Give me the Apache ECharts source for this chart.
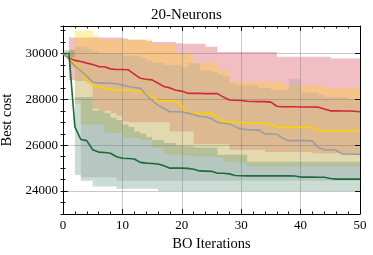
<!DOCTYPE html>
<html>
<head>
<meta charset="utf-8">
<script src="https://cdn.jsdelivr.net/npm/echarts@6/dist/echarts.min.js"></script>
<style>html,body{margin:0;padding:0;background:#fff}#c{width:373px;height:255px}</style>
</head>
<body>
<div id="c"></div>
<script>
const iters = [0,1,2,3,4,5,6,7,8,9,10,11,12,13,14,15,16,17,18,19,20,21,22,23,24,25,26,27,28,29,30,31,32,33,34,35,36,37,38,39,40,41,42,43,44,45,46,47,48,49,50];
const xTicks = [0,10,20,30,40,50];
const yTicks = [24000,26000,28000,30000];

const redMean = [30000,29800,29700,29650,29580,29520,29430,29420,29330,29300,
 29300,29290,29100,28920,28880,28850,28700,28560,28500,28400,
 28360,28270,28260,28260,28250,28250,28250,28100,27970,27960,
 27950,27920,27910,27900,27900,27880,27700,27680,27680,27680,
 27670,27670,27670,27660,27580,27500,27500,27490,27490,27480,
 27460];
const redHi = [30000,30700,30700,30700,30700,30700,30700,30700,30700,30700,
 30650,30600,30600,30600,30550,30500,30500,30500,30500,30450,
 30430,30430,30430,30430,30290,30290,30070,30070,30070,30070,
 30070,30070,30070,30070,30070,30070,29855,29855,29855,29855,
 29855,29855,29855,29855,29855,29780,29780,29780,29780,29780,
 29780];
const redLo = [30000,28850,28800,28800,28700,27600,27500,27500,27400,27300,
 27050,27000,27000,27000,27000,27000,27000,27000,26600,26600,
 26600,26600,26050,26050,26050,26050,26050,26050,25800,25800,
 25800,25800,25800,25800,25700,25700,25700,25700,25700,25700,
 25700,25700,25650,25650,25650,25650,25650,25650,25650,25650,
 25650];

const yelMean = [30000,29750,29600,29280,28860,28620,28550,28480,28430,28400,
 28400,28400,28400,28330,28270,28100,27930,27930,27930,27920,
 27700,27400,27390,27390,27390,27390,27200,27030,27030,27020,
 27000,26980,26960,26955,26955,26900,26780,26780,26780,26780,
 26780,26780,26770,26640,26630,26630,26630,26630,26630,26630,
 26620];
const yelHi = [30000,30200,31000,31000,31000,30800,30600,30600,30600,30600,
 30600,30600,30600,30600,30600,30400,30400,30400,30400,30000,
 30000,30000,29600,29600,29600,29600,29270,29270,28770,28770,
 28770,28770,28770,28770,28770,28770,28770,28620,28620,28620,
 28620,28620,28620,28620,28480,28480,28480,28480,28480,28480,
 28480];
const yelLo = [30000,29400,27800,26900,26900,26900,26900,26530,26530,26530,
 26330,26330,26330,26230,26230,25880,25880,25600,25600,25600,
 25550,25550,25500,25500,25500,25500,25450,25280,25280,25250,
 25230,25070,25070,25070,25070,25070,25070,25070,25070,25070,
 25070,25070,25070,25070,25070,25070,25070,25070,25070,25070,
 25070];

const grayMean = [30000,29750,29450,29250,29000,28750,28720,28710,28700,28680,
 28620,28560,28520,28480,28200,27950,27750,27600,27460,27460,
 27450,27400,27340,27250,27240,27150,27000,26955,26930,26810,
 26700,26680,26670,26660,26490,26490,26480,26300,26200,26200,
 26200,26200,26180,25900,25800,25800,25780,25620,25620,25610,
 25600];
const grayHi = [30000,30100,30300,30300,30200,30100,30000,30000,30000,30000,
 29900,29900,29900,29800,29700,29600,29600,29500,29500,29500,
 29400,29570,29570,29270,29270,29200,29100,29000,28700,28600,
 28600,28600,28600,28500,28500,28400,28400,28400,28900,28900,
 28300,28300,28300,28200,28100,28100,28100,28100,28000,28000,
 28000];
const grayLo = [30000,29400,28000,24600,24600,24600,24600,24600,24600,24450,
 24450,24450,24450,24450,24450,24450,24450,24450,24450,24450,
 24450,24450,24450,24450,24450,24450,24450,24450,24450,24450,
 24450,24450,24450,24450,24450,24450,24450,24450,24450,24450,
 24450,24450,24450,24450,24450,24450,24450,24450,24450,24450,
 24450];

const grnMean = [30000,30000,26800,26250,26200,25800,25700,25680,25650,25500,
 25430,25420,25400,25250,25220,25200,25180,25100,25000,25000,
 25000,24990,24950,24880,24870,24860,24780,24780,24750,24680,
 24670,24665,24665,24665,24665,24665,24665,24665,24665,24660,
 24610,24610,24610,24605,24600,24550,24520,24520,24520,24520,
 24520];
const grnHi = [30150,30150,28100,28100,28100,27500,27500,27400,27200,27100,
 26900,26800,26600,26500,26350,26230,26230,26100,26100,26000,
 25950,25950,25900,25900,25900,25900,25580,25580,25580,25580,
 25580,25280,25280,25280,25280,25280,25280,25280,25280,25280,
 25280,25280,25280,25280,25280,25280,25280,25280,25280,25280,
 25280];
const grnLo = [29850,29850,24700,24450,24450,24200,24200,24200,24200,24100,
 24100,24100,24100,24100,24100,24100,24000,24000,24000,24000,
 24000,24000,24000,24000,24000,24000,24000,24000,24000,24000,
 24000,24000,24000,24000,24000,24000,24000,24000,24000,24000,
 24000,24000,24000,24000,24000,24000,24000,24000,24000,24000,
 24000];

const FONT = 'Liberation Serif';
const C_RED = '#d0283c', C_YEL = '#ffd000', C_GRAY = '#9c9ca6', C_GRN = '#1d6a3a';
const C_GRN_BAND = '#2a7550';

function pairs(arr){ return arr.map((v,i)=>[iters[i], v]); }
// stepped band (value at iteration i holds until i+1), polygon built through the axis scales
function band(lo, hi, color, op){
  return {
    type:'custom', silent:true, z:1, animation:false, clip:true,
    data: iters.map((x,i)=>[x, lo[i], hi[i]]),
    encode:{x:0, y:[1,2]},
    renderItem:function(params, api){
      if (params.dataIndex !== 0) return null;
      const n = iters.length, pts = [];
      for (let i=0;i<n;i++){
        const xa = iters[i], xb = i+1<n ? iters[i+1] : iters[i];
        pts.push(api.coord([xa, hi[i]]));
        pts.push(api.coord([xb, hi[i]]));
      }
      for (let i=n-1;i>=0;i--){
        const xa = iters[i], xb = i+1<n ? iters[i+1] : iters[i];
        pts.push(api.coord([xb, lo[i]]));
        pts.push(api.coord([xa, lo[i]]));
      }
      return {type:'polygon', shape:{points:pts}, style:{fill:color, opacity:op}};
    }
  };
}
function line(name, arr, color){
  return {type:'line', name:name, data:pairs(arr), symbol:'none', z:5, animation:false,
    lineStyle:{color:color, width:1.6}};
}

const tickStyle = {color:'#000', width:0.9};
const gridLine = {show:true, lineStyle:{color:'rgba(110,110,110,0.38)', width:1}};
const yMin = 23000, yMax = 31200;

const option = {
  animation:false,
  title:{text:'20-Neurons', left:'center', top:3, textStyle:{fontFamily:FONT, fontSize:15, fontWeight:'normal', color:'#000'}},
  grid:{left:63, right:13, top:26, bottom:41, outerBoundsMode:'none', containLabel:false},
  xAxis:[
    {type:'value', min:0, max:50, interval:10, position:'bottom', z:3,
     axisLine:{show:true, onZero:false, lineStyle:{color:'#000', width:1}},
     axisTick:{show:true, inside:true, length:5, lineStyle:tickStyle},
     minorTick:{show:true, splitNumber:5, length:2.5, lineStyle:tickStyle},
     axisLabel:{fontFamily:FONT, fontSize:13, color:'#000', margin:5,
       formatter:v=>xTicks.indexOf(v)>=0?String(v):''},
     splitLine:gridLine,
     name:'BO Iterations', nameLocation:'middle', nameGap:22,
     nameTextStyle:{fontFamily:FONT, fontSize:14.5, color:'#000'}},
    {type:'value', min:0, max:50, interval:10, position:'top', z:3,
     axisLine:{show:true, onZero:false, lineStyle:{color:'#000', width:1}},
     axisTick:{show:true, inside:true, length:5, lineStyle:tickStyle},
     minorTick:{show:true, splitNumber:5, length:2.5, lineStyle:tickStyle},
     axisLabel:{show:false}, splitLine:{show:false}}
  ],
  yAxis:[
    {type:'value', min:yMin, max:yMax, splitNumber:4, position:'left', z:3,
     axisLine:{show:true, onZero:false, lineStyle:{color:'#000', width:1}},
     axisTick:{show:true, inside:true, length:5, lineStyle:tickStyle},
     axisLabel:{fontFamily:FONT, fontSize:13, color:'#000', margin:5, showMinLabel:false, showMaxLabel:false,
       formatter:v=>yTicks.indexOf(v)>=0?String(v):''},
     splitLine:gridLine,
     name:'Best cost', nameLocation:'middle', nameGap:42, nameRotate:90,
     nameTextStyle:{fontFamily:FONT, fontSize:14.5, color:'#000'}},
    {type:'value', min:yMin, max:yMax, interval:500, position:'left', z:3,
     axisLine:{show:false}, axisTick:{show:true, inside:true, length:2.5, lineStyle:tickStyle},
     axisLabel:{show:false}, splitLine:{show:false}},
    {type:'value', min:yMin, max:yMax, splitNumber:4, position:'right', z:3,
     axisLine:{show:true, onZero:false, lineStyle:{color:'#000', width:1}},
     axisTick:{show:true, inside:true, length:5, lineStyle:tickStyle},
     axisLabel:{show:false}, splitLine:{show:false}},
    {type:'value', min:yMin, max:yMax, interval:500, position:'right', z:3,
     axisLine:{show:false}, axisTick:{show:true, inside:true, length:2.5, lineStyle:tickStyle},
     axisLabel:{show:false}, splitLine:{show:false}}
  ],
  series:[
    band(redLo, redHi, C_RED, 0.3),
    band(yelLo, yelHi, C_YEL, 0.3),
    band(grayLo, grayHi, C_GRAY, 0.28),
    band(grnLo, grnHi, C_GRN_BAND, 0.25),
    line('red', redMean, C_RED), line('yel', yelMean, C_YEL), line('gray', grayMean, C_GRAY), line('grn', grnMean, C_GRN)
  ]
};
const chart = echarts.init(document.getElementById('c'), null, {renderer:'canvas'});
chart.setOption(option);
</script>
</body>
</html>
